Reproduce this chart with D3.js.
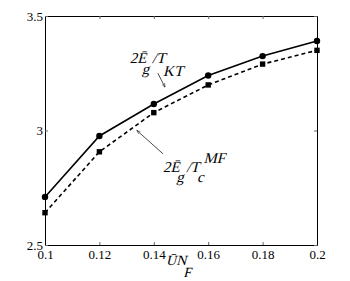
<!DOCTYPE html>
<html>
<head>
<meta charset="utf-8">
<script src="https://cdn.jsdelivr.net/npm/d3@7"></script>
<style>
  body { margin: 0; background: #fff; }
</style>
</head>
<body>
<div id="chart"></div>
<script>
// chart data
const unf = [0.1, 0.12, 0.14, 0.16, 0.18, 0.2];
const ratioKT = [2.71, 2.976, 3.116, 3.24, 3.325, 3.391];
const ratioMF = [2.641, 2.907, 3.078, 3.199, 3.29, 3.35];
const xTicks = [0.1, 0.12, 0.14, 0.16, 0.18, 0.2];
const yTicks = [2.5, 3, 3.5];

// only the regular serif face is installed, so italics are slanted by hand
const serif = 'Liberation Serif';
const width = 350, height = 281;
const margin = {left: 45, top: 16, right: 33, bottom: 36};

const svg = d3.select('#chart').append('svg')
  .attr('width', width)
  .attr('height', height)
  .attr('font-family', serif);

const x = d3.scaleLinear().domain([0.1, 0.2]).range([margin.left, width - margin.right]);
const y = d3.scaleLinear().domain([2.5, 3.5]).range([height - margin.bottom, margin.top]);

// axes, ticks pointing inward
function styleAxis(g) {
  g.attr('font-family', serif).attr('font-size', 13);
  g.selectAll('.domain').attr('stroke', '#000');
  g.selectAll('.tick line').attr('stroke', '#666');
  g.selectAll('.tick text').attr('fill', '#000');
}
svg.append('g')
  .attr('transform', `translate(0,${y(2.5)})`)
  .call(d3.axisBottom(x).tickValues(xTicks).tickFormat(d3.format('~g'))
    .tickSizeInner(-3).tickSizeOuter(0).tickPadding(5))
  .call(styleAxis);
svg.append('g')
  .attr('transform', `translate(0,${y(3.5)})`)
  .call(d3.axisTop(x).tickValues(xTicks).tickFormat('')
    .tickSizeInner(-3).tickSizeOuter(0))
  .call(styleAxis);
svg.append('g')
  .attr('transform', `translate(${x(0.1)},0)`)
  .call(d3.axisLeft(y).tickValues(yTicks).tickFormat(d3.format('~g'))
    .tickSizeInner(-3).tickSizeOuter(0).tickPadding(2))
  .call(styleAxis);
svg.append('g')
  .attr('transform', `translate(${x(0.2)},0)`)
  .call(d3.axisRight(y).tickValues(yTicks).tickFormat('')
    .tickSizeInner(-3).tickSizeOuter(0))
  .call(styleAxis);

// lines
const line = d3.line().x((d, i) => x(unf[i])).y(d => y(d));
svg.append('path')
  .datum(ratioKT)
  .attr('d', line)
  .attr('fill', 'none')
  .attr('stroke', '#000')
  .attr('stroke-width', 1.6);
svg.append('path')
  .datum(ratioMF)
  .attr('d', line)
  .attr('fill', 'none')
  .attr('stroke', '#000')
  .attr('stroke-width', 1.6)
  .attr('stroke-dasharray', '4,3');

svg.selectAll('circle.kt')
  .data(ratioKT)
  .enter()
  .append('circle')
  .attr('cx', (d, i) => x(unf[i]))
  .attr('cy', d => y(d))
  .attr('r', 3.2)
  .attr('fill', '#000');
svg.selectAll('rect.mf')
  .data(ratioMF)
  .enter()
  .append('rect')
  .attr('x', (d, i) => x(unf[i]) - 2.7)
  .attr('y', d => y(d) - 2.7)
  .attr('width', 5.4)
  .attr('height', 5.4)
  .attr('fill', '#000');

// slanted text pieces
function addLabel(px, py, size, parts) {
  const t = svg.append('g')
    .attr('transform', `translate(${px},${py}) skewX(-14)`)
    .append('text')
    .attr('x', 0)
    .attr('y', 0)
    .attr('font-family', serif)
    .attr('font-size', size);
  parts.forEach(p => {
    const s = t.append('tspan').text(p.t);
    if (p.dy) s.attr('dy', p.dy);
    if (p.dx) s.attr('dx', p.dx);
  });
  return t;
}
addLabel(x(0.1312), y(3.295), 15, [
  {t: '2Ē'},
  {t: 'g', dy: 11, dx: -2},
  {t: '/T', dy: -11},
  {t: 'KT', dy: 13, dx: 1}
]);
addLabel(x(0.1434), y(2.818), 15, [
  {t: '2Ē'},
  {t: 'g', dy: 10, dx: -1},
  {t: '/T', dy: -10},
  {t: 'c', dy: 10},
  {t: 'MF', dy: -19, dx: -5}
]);

svg.append('defs').append('marker')
  .attr('id', 'arr')
  .attr('viewBox', '0 0 10 10')
  .attr('refX', 9).attr('refY', 5)
  .attr('markerWidth', 6).attr('markerHeight', 6)
  .attr('orient', 'auto')
  .append('path')
  .attr('d', 'M0,1.5L10,5L0,8.5')
  .attr('fill', 'none')
  .attr('stroke', '#000')
  .attr('stroke-width', 1);

const arrows = [
  {from: [0.1415, 3.25], to: [0.1441, 3.19]},
  {from: [0.1434, 2.898], to: [0.1338, 3.0]}
];
svg.selectAll('line.arrow')
  .data(arrows)
  .enter()
  .append('line')
  .attr('x1', d => x(d.from[0]))
  .attr('y1', d => y(d.from[1]))
  .attr('x2', d => x(d.to[0]))
  .attr('y2', d => y(d.to[1]))
  .attr('stroke', '#000')
  .attr('stroke-width', 0.7)
  .attr('marker-end', 'url(#arr)');

// x axis title
addLabel(x(0.1445), 265, 14, [
  {t: 'ŪN'},
  {t: 'F', dy: 12}
]);
</script>
</body>
</html>
